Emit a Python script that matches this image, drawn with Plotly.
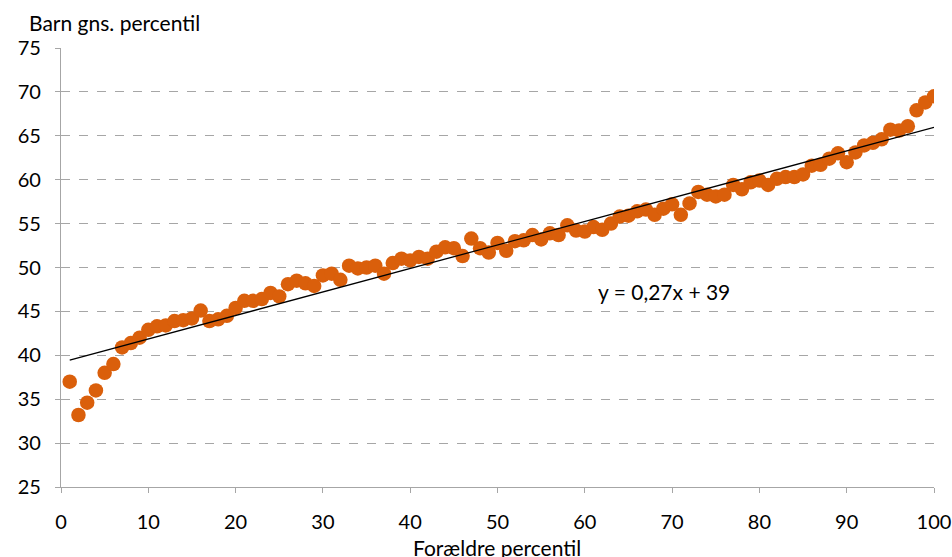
import numpy as np
import plotly.graph_objects as go

# Parent percentile (x) and child's mean percentile (y)
parent_pct = list(range(1, 101))
child_mean_pct = [
    37.0, 33.2, 34.6, 36.0, 38.0, 39.0, 40.9, 41.4, 42.0, 42.9,
    43.3, 43.4, 43.9, 44.0, 44.2, 45.1, 43.9, 44.1, 44.5, 45.4,
    46.2, 46.2, 46.4, 47.1, 46.7, 48.1, 48.5, 48.2, 47.9, 49.1,
    49.3, 48.6, 50.2, 49.9, 50.0, 50.2, 49.3, 50.5, 51.0, 50.8,
    51.2, 51.0, 51.8, 52.3, 52.2, 51.3, 53.3, 52.2, 51.7, 52.8,
    51.9, 53.0, 53.1, 53.7, 53.2, 53.9, 53.7, 54.8, 54.2, 54.1,
    54.6, 54.3, 55.0, 55.8, 55.9, 56.4, 56.6, 56.0, 56.7, 57.2,
    56.0, 57.3, 58.6, 58.3, 58.1, 58.3, 59.4, 58.9, 59.7, 59.9,
    59.4, 60.1, 60.3, 60.3, 60.6, 61.6, 61.7, 62.4, 63.0, 62.0,
    63.1, 63.9, 64.2, 64.6, 65.7, 65.6, 66.1, 67.9, 68.8, 69.5,
]
x_ticks = [0, 10, 20, 30, 40, 50, 60, 70, 80, 90, 100]
y_ticks = [25, 30, 35, 40, 45, 50, 55, 60, 65, 70, 75]
trend_label = "y = 0,27x + 39"
y_title = "Barn gns. percentil"
x_title = "Forældre percentil"

# Linear trendline fitted to the data
slope, intercept = np.polyfit(parent_pct, child_mean_pct, 1)
trend_x = [parent_pct[0], parent_pct[-1]]
trend_y = [slope * v + intercept for v in trend_x]

FONT = "Lato, 'Open Sans', sans-serif"
FS = 20
FT = 21
ORANGE = "#DA5F0B"
GRID = "#A6A6A6"

W, H = 952, 557
ml, mr, mt = 61, 18, 48
mb = H - mt - 439
pw, ph = W - ml - mr, H - mt - mb


def px_to_paper(px, py):
    return (px - ml) / pw, 1 - (py - mt) / ph


fig = go.Figure()
fig.add_trace(go.Scatter(
    x=parent_pct, y=child_mean_pct, mode="markers",
    marker=dict(color=ORANGE, size=14.5, line=dict(width=0)),
    showlegend=False, hoverinfo="x+y",
))
fig.add_trace(go.Scatter(
    x=trend_x, y=trend_y, mode="lines",
    line=dict(color="black", width=1.3),
    showlegend=False, hoverinfo="skip",
))

fig.add_annotation(
    x=61.3, y=47.3, xref="x", yref="y", text=trend_label,
    showarrow=False, xanchor="left", yanchor="middle",
    font=dict(family=FONT, size=FT, color="black"),
)
ax, ay = px_to_paper(27, 23)
fig.add_annotation(
    x=ax, y=ay, xref="paper", yref="paper", text=y_title,
    showarrow=False, xanchor="left", yanchor="middle",
    font=dict(family=FONT, size=FT, color="black"),
)
bx, by = px_to_paper(497, 547)
fig.add_annotation(
    x=bx, y=by, xref="paper", yref="paper", text=x_title,
    showarrow=False, xanchor="center", yanchor="middle",
    font=dict(family=FONT, size=FT, color="black"),
)

fig.update_layout(
    width=W, height=H,
    margin=dict(l=ml, r=mr, t=mt, b=mb, autoexpand=False),
    paper_bgcolor="white", plot_bgcolor="white",
    font=dict(family=FONT, size=FS, color="black"),
    xaxis=dict(
        range=[0, 100], tickvals=x_ticks, showgrid=False, zeroline=False,
        showline=True, linecolor=GRID, linewidth=1.3,
        ticks="outside", ticklen=5, tickcolor=GRID, tickwidth=1,
        ticklabelstandoff=12, automargin=False,
        tickfont=dict(family=FONT, size=FS), fixedrange=True,
    ),
    yaxis=dict(
        range=[25, 75], tickvals=y_ticks, showgrid=True, gridcolor=GRID,
        griddash="dash", gridwidth=1, zeroline=False,
        showline=True, linecolor=GRID, linewidth=1.3,
        ticks="outside", ticklen=5, tickcolor=GRID, tickwidth=1,
        ticklabelstandoff=10, automargin=False,
        tickfont=dict(family=FONT, size=FS), fixedrange=True,
    ),
)

fig.write_html(
    "out.html",
    config={"displayModeBar": False},
    post_script="document.body.style.margin='0';document.body.style.overflow='hidden';",
)
